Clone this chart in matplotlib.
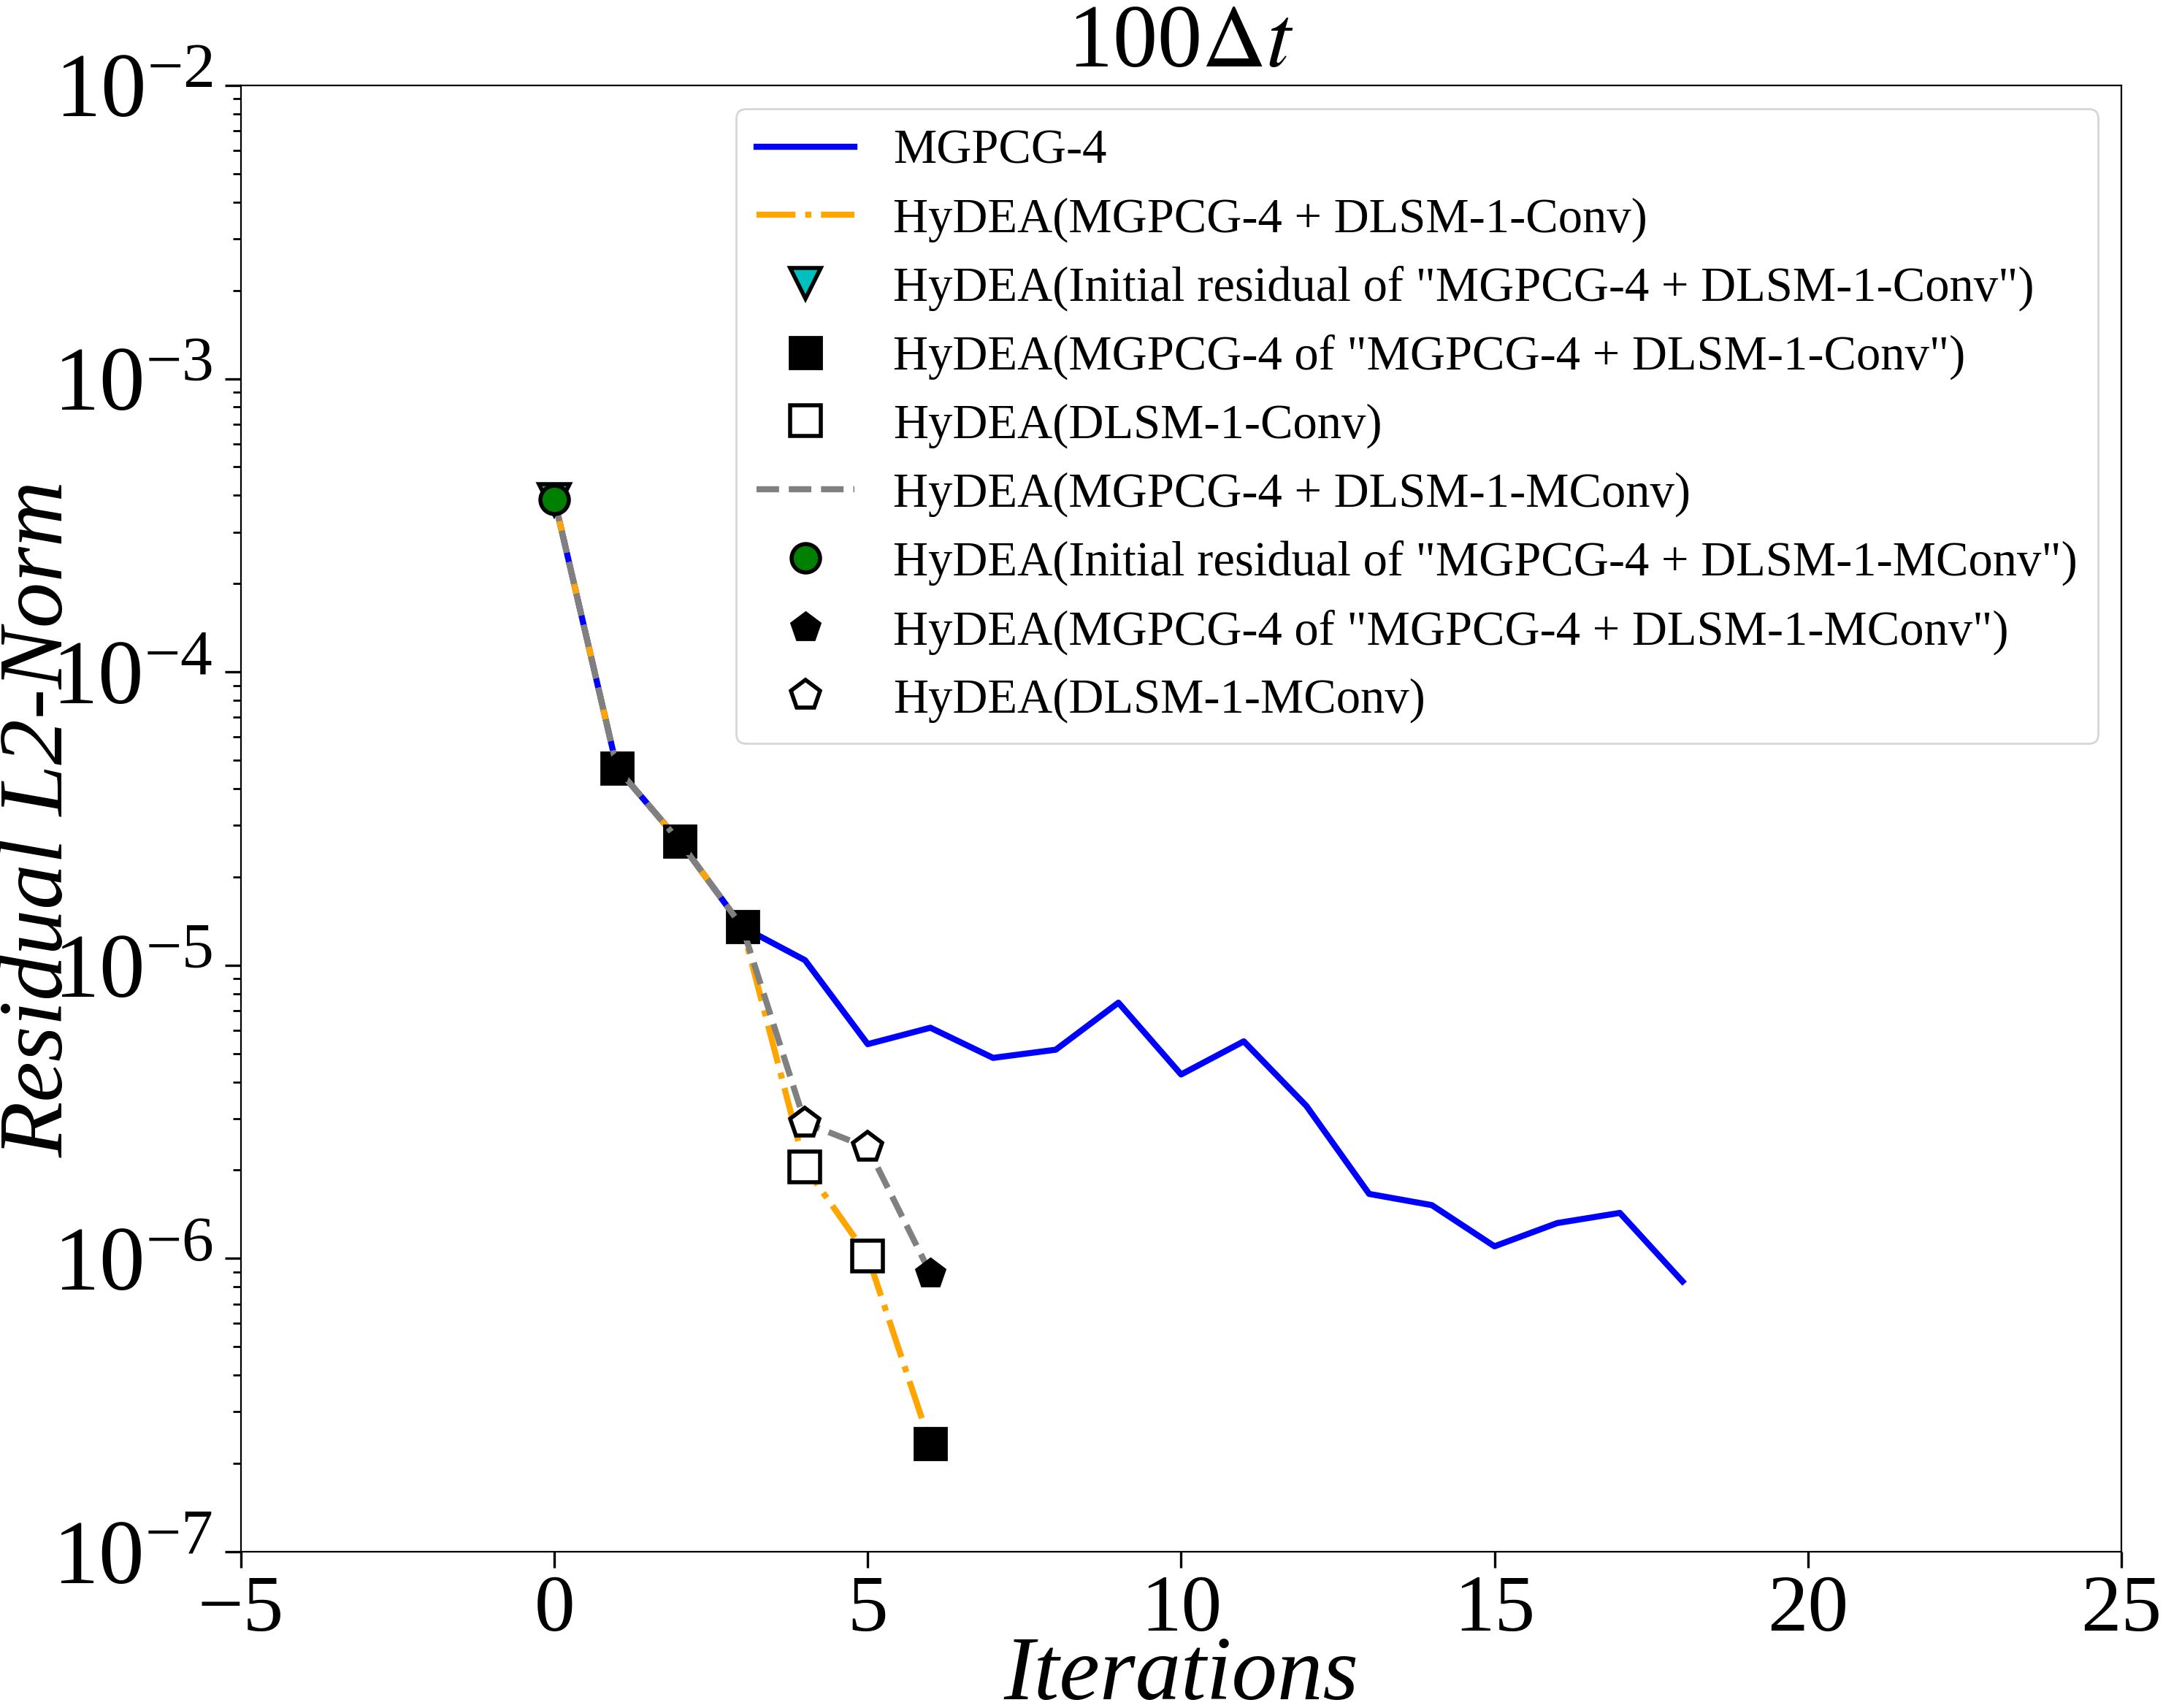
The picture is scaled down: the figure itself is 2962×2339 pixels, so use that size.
"""Residual convergence at 100 dt: MGPCG-4 vs HyDEA variants."""

import matplotlib

matplotlib.use("Agg")
import matplotlib.pyplot as plt

plt.rcParams["font.family"] = ["Liberation Serif", "DejaVu Serif"]
plt.rcParams["mathtext.fontset"] = "stix"

# MGPCG-4 residual history
mgpcg_iter = list(range(19))
mgpcg_res = [3.88e-4, 4.7e-5, 2.64e-5, 1.35e-5, 1.04e-5, 5.38e-6, 6.12e-6,
             4.83e-6, 5.15e-6, 7.45e-6, 4.24e-6, 5.5e-6, 3.31e-6, 1.66e-6,
             1.52e-6, 1.1e-6, 1.32e-6, 1.43e-6, 8.35e-7]

# HyDEA (MGPCG-4 + DLSM-1-Conv)
conv_iter = [0, 1, 2, 3, 4, 5, 6]
conv_res = [3.88e-4, 4.7e-5, 2.64e-5, 1.35e-5, 2.05e-6, 1.02e-6, 2.33e-7]
conv_init = [0]
conv_mg = [1, 2, 3, 6]
conv_dl = [4, 5]

# HyDEA (MGPCG-4 + DLSM-1-MConv)
mconv_iter = [0, 1, 2, 3, 4, 5, 6]
mconv_res = [3.88e-4, 4.7e-5, 2.64e-5, 1.35e-5, 2.9e-6, 2.39e-6, 8.9e-7]
mconv_init = [0]
mconv_mg = [1, 2, 3, 6]
mconv_dl = [4, 5]

xticks = [-5, 0, 5, 10, 15, 20, 25]


def pick(iters, res, which):
    return [res[iters.index(i)] for i in which]


fig = plt.figure(figsize=(14.81, 11.695), dpi=200)
ax = fig.add_axes([0.1114, 0.0915, 0.8693, 0.8585])

ax.plot(mgpcg_iter, mgpcg_res, "-", color="blue", lw=3, label="MGPCG-4")
ax.plot(conv_iter, conv_res, "-.", color="orange", lw=3,
        label="HyDEA(MGPCG-4 + DLSM-1-Conv)")
ax.plot(conv_init, pick(conv_iter, conv_res, conv_init), "v", color="c",
        mec="black", mew=2, ms=15, ls="none",
        label='HyDEA(Initial residual of "MGPCG-4 + DLSM-1-Conv")')
ax.plot(conv_mg, pick(conv_iter, conv_res, conv_mg), "s", color="black",
        ms=16, ls="none", label='HyDEA(MGPCG-4 of "MGPCG-4 + DLSM-1-Conv")')
ax.plot(conv_dl, pick(conv_iter, conv_res, conv_dl), "s", mfc="white",
        mec="black", mew=2, ms=15, ls="none", label="HyDEA(DLSM-1-Conv)")
ax.plot(mconv_iter, mconv_res, "--", color="gray", lw=3,
        label="HyDEA(MGPCG-4 + DLSM-1-MConv)")
ax.plot(mconv_init, pick(mconv_iter, mconv_res, mconv_init), "o",
        color="green", mec="black", mew=2, ms=14, ls="none",
        label='HyDEA(Initial residual of "MGPCG-4 + DLSM-1-MConv")')
ax.plot(mconv_mg, pick(mconv_iter, mconv_res, mconv_mg), "p", color="black",
        ms=15, ls="none", label='HyDEA(MGPCG-4 of "MGPCG-4 + DLSM-1-MConv")')
ax.plot(mconv_dl, pick(mconv_iter, mconv_res, mconv_dl), "p", mfc="white",
        mec="black", mew=2, ms=15, ls="none", label="HyDEA(DLSM-1-MConv)")

ax.set_yscale("log")
ax.set_ylim(1e-7, 1e-2)
ax.set_xlim(-5, 25)
ax.set_xticks(xticks)
ax.set_xticklabels([str(t).replace("-", "\u2212") for t in xticks])
ax.tick_params(axis="both", which="major", length=8, width=1.2)
ax.tick_params(axis="x", which="major", labelsize=40)
ax.tick_params(axis="y", which="major", labelsize=45, pad=6)
ax.tick_params(axis="both", which="minor", length=4, width=1)
ax.set_xlabel("Iterations", fontsize=45, style="italic", labelpad=-6)
ax.set_ylabel("Residual L2-Norm", fontsize=45, style="italic", labelpad=-15)
ax.set_title(r"100$\Delta t$", fontsize=44, pad=2)

ax.legend(loc="upper right", fontsize=24, handlelength=2.0, labelspacing=0.48,
          borderaxespad=0.48, handletextpad=0.8, borderpad=0.42)

fig.savefig("out.png", dpi=200)
